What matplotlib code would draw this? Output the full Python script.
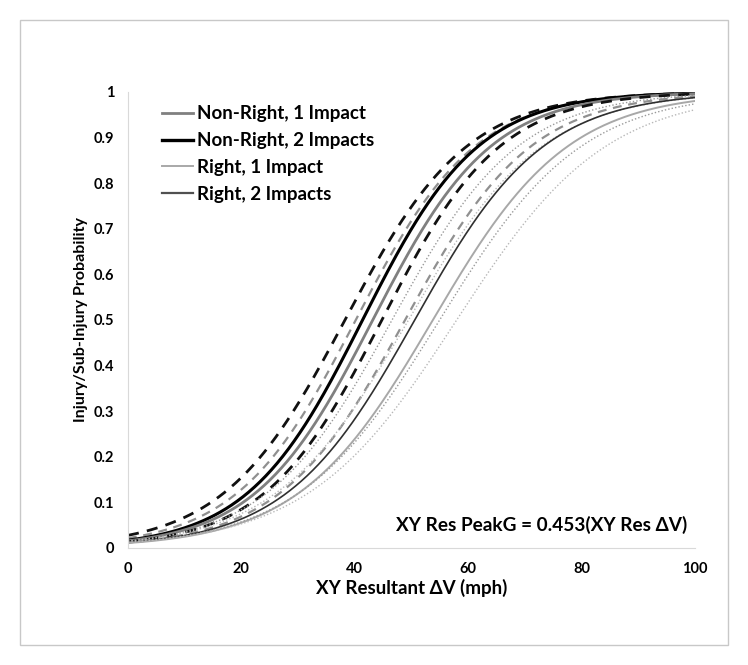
import numpy as np
import matplotlib
matplotlib.use("Agg")
import matplotlib.pyplot as plt
from matplotlib.patches import Rectangle

plt.rcParams['font.family'] = ['Lato', 'DejaVu Sans']

# logistic curves: 50% point (mph) and slope (1/mph)
curve_names = ['NR2 upper', 'NR1 upper', 'NR2 mean', 'NR1 mean', 'NR2 lower', 'R2 upper',
               'NR1 lower', 'R1 upper', 'R2 mean', 'R1 mean', 'R2 lower', 'R1 lower']
x50 = [38.3, 40.2, 41.4, 43.2, 44.8, 46.6, 48.9, 49.5, 50.6, 53.8, 55.0, 58.0]
slope = [0.093, 0.095, 0.098, 0.096, 0.096, 0.09, 0.09, 0.085, 0.088, 0.084, 0.08, 0.076]

legend_labels = ['Non-Right, 1 Impact', 'Non-Right, 2 Impacts', 'Right, 1 Impact', 'Right, 2 Impacts']
xticks = [0, 20, 40, 60, 80, 100]
yticks = [0, 0.1, 0.2, 0.3, 0.4, 0.5, 0.6, 0.7, 0.8, 0.9, 1]
ytick_labels = ['0', '0.1', '0.2', '0.3', '0.4', '0.5', '0.6', '0.7', '0.8', '0.9', '1']

styles = {
    'NR2 upper': dict(color='#111111', lw=2.0, dashes=(4, 3)),
    'NR2 lower': dict(color='#111111', lw=2.0, dashes=(4, 3)),
    'NR2 mean': dict(color='#000000', lw=2.2, ls='-'),
    'NR1 upper': dict(color='#909090', lw=1.6, dashes=(4, 3)),
    'NR1 lower': dict(color='#909090', lw=1.6, dashes=(4, 3)),
    'NR1 mean': dict(color='#808080', lw=2.0, ls='-'),
    'R2 upper': dict(color='#9a9a9a', lw=1.0, dashes=(1, 1.5)),
    'R2 lower': dict(color='#9a9a9a', lw=1.0, dashes=(1, 1.5)),
    'R2 mean': dict(color='#303030', lw=1.2, ls='-'),
    'R1 upper': dict(color='#b8b8b8', lw=1.0, dashes=(1, 1.5)),
    'R1 lower': dict(color='#b8b8b8', lw=1.0, dashes=(1, 1.5)),
    'R1 mean': dict(color='#a8a8a8', lw=1.4, ls='-'),
}

fig = plt.figure(figsize=(7.48, 6.65), dpi=100)
fig.patches.append(Rectangle((0.027, 0.03), 0.946, 0.94, transform=fig.transFigure,
                             fill=False, edgecolor='#c8c8c8', lw=1))
ax = fig.add_axes([0.171, 0.176, 0.758, 0.686])

dv = np.linspace(0, 100, 400)
for name, m, b in zip(curve_names, x50, slope):
    p = 1.0 / (1.0 + np.exp(-b * (dv - m)))
    ax.plot(dv, p, **styles[name])

# legend
handles = [plt.Line2D([], [], color='#808080', lw=2.0),
           plt.Line2D([], [], color='#000000', lw=2.4),
           plt.Line2D([], [], color='#a8a8a8', lw=1.4),
           plt.Line2D([], [], color='#505050', lw=1.6)]
leg = ax.legend(handles, legend_labels, loc='upper left', bbox_to_anchor=(0.06, 0.97),
                frameon=False, handlelength=1.65, handletextpad=0.2, labelspacing=0.52,
                borderpad=0, borderaxespad=0,
                prop=dict(weight='bold', size=13.5))

ax.set_xlim(0, 100)
ax.set_ylim(0, 1)
ax.set_xticks(xticks)
ax.set_xticklabels([str(t) for t in xticks], fontweight='bold', fontsize=10.5)
ax.set_yticks(yticks)
ax.set_yticklabels(ytick_labels, fontweight='bold', fontsize=10.5)
ax.tick_params(length=0, pad=10)
for s in ['top', 'right']:
    ax.spines[s].set_visible(False)
ax.spines['left'].set_color('#d9d9d9')
ax.spines['bottom'].set_color('#d9d9d9')

ax.set_xlabel('XY Resultant ΔV (mph)', fontweight='bold', fontsize=13.5, labelpad=2)
ax.set_ylabel('Injury/Sub-Injury Probability', fontweight='bold', fontsize=11.5, labelpad=4)
ax.text(0.986, 0.05, 'XY Res PeakG = 0.453(XY Res ΔV)', transform=ax.transAxes,
        ha='right', va='center', fontweight='bold', fontsize=13.7)

fig.savefig('out.png', dpi=100)
